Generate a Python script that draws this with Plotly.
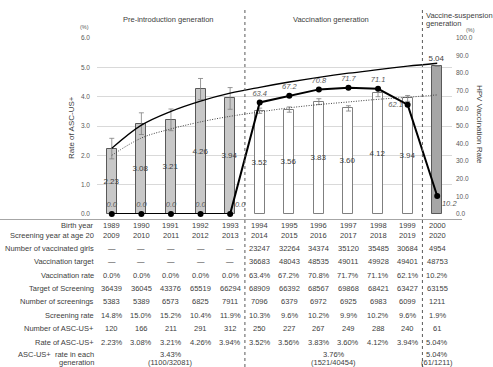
import plotly.graph_objects as go

# ---- data -------------------------------------------------------------
birth_years = [1989, 1990, 1991, 1992, 1993, 1994, 1995, 1996, 1997, 1998, 1999, 2000]
screening_years = [2009, 2010, 2011, 2012, 2013, 2014, 2015, 2016, 2017, 2018, 2019, 2020]
vaccinated_girls = [None, None, None, None, None, 23247, 32264, 34374, 35120, 35485, 30684, 4954]
vaccination_target = [None, None, None, None, None, 36683, 48043, 48535, 49011, 49928, 49401, 48753]
vaccination_rate = [0.0, 0.0, 0.0, 0.0, 0.0, 63.4, 67.2, 70.8, 71.7, 71.1, 62.1, 10.2]
target_screening = [36439, 36045, 43376, 65519, 66294, 68909, 66392, 68567, 69868, 68421, 63427, 63155]
screenings = [5383, 5389, 6573, 6825, 7911, 7096, 6379, 6972, 6925, 6983, 6099, 1211]
screening_rate = [14.8, 15.0, 15.2, 10.4, 11.9, 10.3, 9.6, 10.2, 9.9, 10.2, 9.6, 1.9]
asc_count = [120, 166, 211, 291, 312, 250, 227, 267, 249, 288, 240, 61]
asc_rate = [2.23, 3.08, 3.21, 4.26, 3.94, 3.52, 3.56, 3.83, 3.60, 4.12, 3.94, 5.04]
asc_err = [0.35, 0.37, 0.37, 0.36, 0.37, 0.09, 0.09, 0.10, 0.09, 0.12, 0.10, None]

# trend curves (ASC-US+ rate, %)
trend_solid = [2.24, 3.03, 3.50, 3.85, 4.12, 4.32, 4.50, 4.66, 4.80, 4.92, 5.04, 5.14]
trend_dotted = [2.00, 2.59, 2.90, 3.14, 3.33, 3.48, 3.62, 3.73, 3.82, 3.91, 3.98, 4.06]

generation_names = ["Pre-introduction generation", "Vaccination generation"]
generation_rate = ["3.43%", "3.76%", "5.04%"]
generation_frac = ["(1100/32081)", "(1521/40454)", "(61/1211)"]
generation_center = [2, 7.5, 11]

# ---- layout geometry (pixels) -----------------------------------------
W, H = 493, 367
L, R, T, B = 97, 41, 38, 153
PW, PH = W - L - R, H - T - B


def px(x):
    return (x - L) / PW


def py(y):
    return (H - B - y) / PH


FONT = "Liberation Sans, Arial, sans-serif"
TXT = "#404040"
xs = list(range(len(birth_years)))

n_pre = 5
n_vac = 6
bar_fill = ["#c8c8c8"] * n_pre + ["#ffffff"] * n_vac + ["#a6a6a6"]
bar_line = ["#595959"] * n_pre + ["#7f7f7f"] * n_vac + ["#595959"]

fig = go.Figure()

fig.add_trace(go.Bar(
    x=xs, y=asc_rate, width=0.34,
    marker=dict(color=bar_fill, line=dict(color=bar_line, width=1)),
    error_y=dict(type="data", array=asc_err, color="#7f7f7f", thickness=0.8, width=2.5),
    text=[f"{v:.2f}" for v in asc_rate],
    textposition=["inside"] * 11 + ["outside"],
    insidetextanchor="middle", constraintext="none", textangle=0,
    textfont=dict(family=FONT, size=8, color=TXT),
    cliponaxis=False, showlegend=False,
))

fig.add_trace(go.Scatter(
    x=xs, y=trend_dotted, mode="lines",
    line=dict(color="#404040", width=1, dash="1px,1.5px", shape="spline"),
    showlegend=False, hoverinfo="skip",
))
fig.add_trace(go.Scatter(
    x=xs, y=trend_solid, mode="lines", line=dict(color="#000000", width=1.3, shape="spline"),
    showlegend=False, hoverinfo="skip",
))

label_pos = ["top center"] * 4 + ["top right"] + ["top center"] * 5 + ["middle left", "bottom right"]
fig.add_trace(go.Scatter(
    x=xs, y=vaccination_rate, yaxis="y2", mode="lines+markers+text",
    line=dict(color="#000000", width=2), marker=dict(color="#000000", size=6),
    text=[f"{v:.1f}" for v in vaccination_rate], textposition=label_pos,
    textfont=dict(family=FONT, size=7.5, color="#595959", style="italic"),
    cliponaxis=False, showlegend=False,
))

annotations = []


def note(text, x, y, xref="paper", size=7.5, color=TXT, xanchor="center", yanchor="middle", **kw):
    annotations.append(dict(text=text, xref=xref, yref="paper", x=x, y=y,
                            xanchor=xanchor, yanchor=yanchor, showarrow=False,
                            font=dict(family=FONT, size=size, color=color), **kw))


# header labels
note(generation_names[0], 1.9, py(19), xref="x")
note(generation_names[1], 7.4, py(19), xref="x")
note("Vaccine-suspension", px(424), py(15), xanchor="left")
note("generation", px(424), py(24), xanchor="left")

# axis units and titles
note("(%)", px(84), py(27), size=5.5, color="#595959")
note("(%)", px(470), py(30), size=5.5, color="#595959")
note("Rate of ASC-US+", px(71), py(128), size=8, textangle=-90)
note("HPV Vaccination Rate", px(479), py(125), size=8, textangle=90)


def fmt_int(v):
    return "—" if v is None else str(v)


rows = [
    ("Birth year", 225, [str(v) for v in birth_years]),
    ("Screening year at age 20", 235.5, [str(v) for v in screening_years]),
    ("Number of vaccinated girls", 248.5, [fmt_int(v) for v in vaccinated_girls]),
    ("Vaccination target", 261.5, [fmt_int(v) for v in vaccination_target]),
    ("Vaccination rate", 275, [f"{v:.1f}%" for v in vaccination_rate]),
    ("Target of Screening", 288, [str(v) for v in target_screening]),
    ("Number of screenings", 301.5, [str(v) for v in screenings]),
    ("Screening rate", 315, [f"{v:.1f}%" for v in screening_rate]),
    ("Number of ASC-US+", 328.5, [str(v) for v in asc_count]),
    ("Rate of ASC-US+", 342, [f"{v:.2f}%" for v in asc_rate]),
]

for name, yy, vals in rows:
    note(name, px(96), py(yy), xanchor="right")
    for i, v in enumerate(vals):
        note(v, i, py(yy), xref="x")

note("ASC-US+  rate in each", px(96), py(354), xanchor="right")
note("generation", px(96), py(362.5), xanchor="right")
for c, r1, r2 in zip(generation_center, generation_rate, generation_frac):
    note(r1, c, py(354), xref="x")
    note(r2, c, py(362.5), xref="x")

shapes = [
    # table top border
    dict(type="line", xref="paper", yref="paper", x0=px(0), x1=px(462), y0=py(219.5), y1=py(219.5),
         line=dict(color="#a6a6a6", width=1)),
]
for xv in (4.5, 10.5):
    shapes.append(dict(type="line", xref="x", yref="paper", x0=xv, x1=xv, y0=py(H), y1=py(10),
                       line=dict(color="#595959", width=1, dash="dot")))

fig.update_layout(
    width=W, height=H, margin=dict(l=L, r=R, t=T, b=B),
    paper_bgcolor="white", plot_bgcolor="white",
    font=dict(family=FONT, color=TXT),
    bargap=0,
    xaxis=dict(range=[-0.5, 11.5], showticklabels=False, showgrid=False, zeroline=False,
               showline=False, ticks=""),
    yaxis=dict(range=[0, 6], dtick=1, tickformat=".1f", showgrid=True, gridcolor="#d9d9d9",
               gridwidth=1, zeroline=False, showline=False, ticks="", ticklabelstandoff=6,
               tickfont=dict(family=FONT, size=6.5, color="#595959")),
    yaxis2=dict(range=[0, 100], dtick=10, tickformat=".1f", overlaying="y", side="right",
                showgrid=False, zeroline=False, showline=False, ticks="", ticklabelstandoff=3,
                tickfont=dict(family=FONT, size=6.5, color="#595959")),
    annotations=annotations, shapes=shapes,
)

fig.write_html("out.html")
